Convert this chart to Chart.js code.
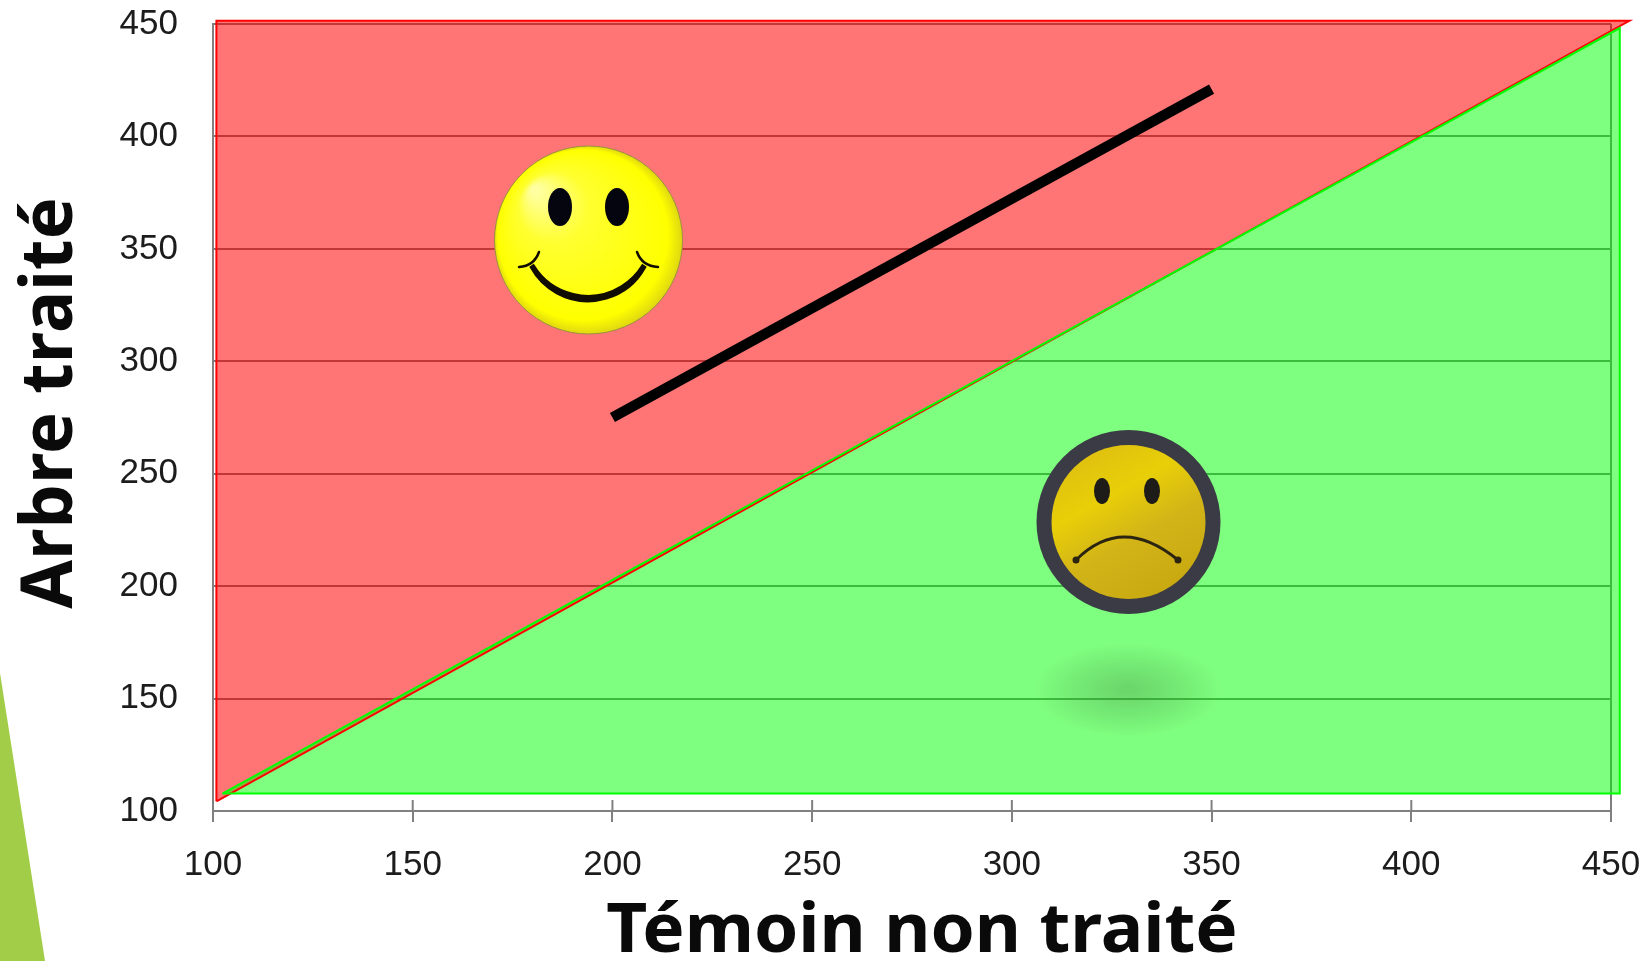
<!DOCTYPE html>
<html><head><meta charset="utf-8">
<style>html,body{margin:0;padding:0;background:#fff;overflow:hidden}canvas{display:block}</style>
<script src="https://cdn.jsdelivr.net/npm/chart.js@4"></script>
</head><body><canvas id="c" width="1646" height="961"></canvas>
<script>
const tickValues=[100,150,200,250,300,350,400,450];
const xTitle="Témoin non traité";
const yTitle="Arbre traité";
const redX=[100.85,454.6,100.85,100.85];
const redY=[104.3,451.4,451.4,104.3];
const greenX=[102.35,452.2,452.2,102.35];
const greenY=[107.75,448.2,107.75,107.75];
const trendX=[200,350];
const trendY=[275,421];
const pts=(xs,ys)=>xs.map((x,i)=>({x,y:ys[i]}));

function zone(ch,xs,ys,fill){const c=ch.ctx,sx=ch.scales.x,sy=ch.scales.y;c.fillStyle=fill;c.beginPath();
 xs.forEach((x,i)=>{const px=sx.getPixelForValue(x),py=sy.getPixelForValue(ys[i]);i?c.lineTo(px,py):c.moveTo(px,py);});c.closePath();c.fill();}

const decor={id:'decor',
 beforeDraw(ch){const c=ch.ctx;c.save();c.fillStyle='#A2CD48';c.beginPath();c.moveTo(0,673);c.lineTo(45,961);c.lineTo(0,961);c.closePath();c.fill();c.restore();},
 beforeDatasetsDraw(ch){const c=ch.ctx,s=ch.scales.x;c.save();c.strokeStyle='#808080';c.lineWidth=2;
  tickValues.forEach(v=>{const p=s.getPixelForValue(v);c.beginPath();c.moveTo(p,s.top-11);c.lineTo(p,s.top);c.stroke();});
  zone(ch,redX,redY,'rgba(255,0,0,.54)');
  zone(ch,greenX,greenY,'rgba(0,255,0,.5)');
  c.restore();},
 afterDatasetsDraw(ch){const c=ch.ctx;c.save();
  // smiling face
  let g=c.createRadialGradient(535,190,4,588,240,94);
  g.addColorStop(0,'#ffffa0');g.addColorStop(.35,'#ffff30');g.addColorStop(.9,'#ffff00');g.addColorStop(1,'#e0d810');
  c.fillStyle=g;c.strokeStyle='#9a8f40';c.lineWidth=1;c.beginPath();c.ellipse(588.5,240,94,94,0,0,7);c.fill();c.stroke();
  c.fillStyle='#050510';[560,617].forEach(x=>{c.beginPath();c.ellipse(x,207,12,19,0,0,7);c.fill();});
  c.fillStyle=c.strokeStyle='#100c00';c.lineCap='round';c.lineWidth=2.5;
  c.beginPath();c.arc(588,236,65,.5,Math.PI-.5);c.arc(588,232,64,Math.PI-.55,.55,true);c.closePath();c.fill();c.stroke();
  c.lineWidth=2.5;c.beginPath();c.moveTo(519,267);c.quadraticCurveTo(534,266,539,252);c.stroke();
  c.beginPath();c.moveTo(658,267);c.quadraticCurveTo(642,266,637,252);c.stroke();
  // shadow
  c.save();c.translate(1128,690);c.scale(1,.5);g=c.createRadialGradient(0,0,5,0,0,95);
  g.addColorStop(0,'rgba(60,120,60,.3)');g.addColorStop(.5,'rgba(60,120,60,.16)');g.addColorStop(1,'rgba(60,120,60,0)');
  c.fillStyle=g;c.beginPath();c.arc(0,0,95,0,7);c.fill();c.restore();
  // sad face
  c.fillStyle='#3b3b45';c.beginPath();c.arc(1128.5,522,92,0,7);c.fill();
  g=c.createLinearGradient(1090,450,1170,595);
  g.addColorStop(0,'#dfc010');g.addColorStop(.3,'#e8cf08');g.addColorStop(.6,'#d2b418');g.addColorStop(1,'#c8a810');
  c.fillStyle=g;c.beginPath();c.arc(1128.5,522,77,0,7);c.fill();
  c.fillStyle='#1d1c18';[1102,1152].forEach(x=>{c.beginPath();c.ellipse(x,491,8,13,0,0,7);c.fill();});
  c.strokeStyle='#2a2410';c.lineWidth=3;c.beginPath();c.moveTo(1076,560);c.quadraticCurveTo(1122,514,1178,560);c.stroke();
  c.fillStyle='#2a2410';[[1076,560],[1178,560]].forEach(p=>{c.beginPath();c.arc(p[0],p[1],3.5,0,7);c.fill();});
  c.restore();}
};

// Places and stretches an axis title around its centre (the reference's titles are stretched).
function fitTitle(scale,cx,cy,sx,sy,dx,dy){const o=scale.drawTitle;if(o.__s)return;
 const f=function(){const c=this.ctx;c.save();c.translate(cx+dx,cy+dy);c.scale(sx,sy);c.translate(-cx,-cy);o.call(this);c.restore();};f.__s=true;scale.drawTitle=f;}

const gridFor=v=>v===100||v===450?'#7a7a7a':'rgba(0,0,0,0)';
new Chart(document.getElementById('c'),{
 type:'scatter',
 plugins:[decor],
 data:{datasets:[
  {label:'Tendance',data:pts(trendX,trendY),showLine:true,borderColor:'#000',borderWidth:10.5,pointRadius:0,clip:false,borderCapStyle:'butt'},
  {label:'Zone verte',data:pts(greenX,greenY),showLine:true,borderColor:'#00FF00',borderWidth:2,pointRadius:0,clip:false},
  {label:'Zone rouge',data:pts(redX,redY),showLine:true,borderColor:'#FF0000',borderWidth:2,pointRadius:0,clip:false}
 ]},
 options:{responsive:false,animation:false,
  layout:{padding:{top:24,right:35,left:0,bottom:0}},
  plugins:{legend:{display:false},tooltip:{enabled:false}},
  scales:{
   x:{type:'linear',min:100,max:450,
    afterFit(s){s.height=150;s.paddingLeft=0;s.paddingRight=0;},
    afterBuildTicks(s){s.ticks=tickValues.map(value=>({value}));},
    afterUpdate(s){fitTitle(s,912,916,1.045,1,10,12);},
    grid:{color:c=>gridFor(c.tick&&c.tick.value),tickColor:'#808080',tickLength:11,lineWidth:2},
    border:{color:'#808080',width:2},
    ticks:{color:'#1c1c1c',padding:22,maxRotation:0,font:{family:'Liberation Sans',size:35}},
    title:{display:true,text:xTitle,color:'#0a0a0a',padding:{top:0,bottom:0},font:{family:'Noto Sans',weight:'bold',size:68}}
   },
   y:{type:'linear',min:100,max:450,
    afterFit(s){s.width=213;s.paddingTop=0;s.paddingBottom=0;},
    afterBuildTicks(s){s.ticks=tickValues.map(value=>({value}));},
    afterUpdate(s){fitTitle(s,41.5,417,1.06,1.035,4.2,-14.5);},
    grid:{color:'#787878',lineWidth:2,drawTicks:false},
    border:{color:'#808080',width:2},
    ticks:{color:'#1c1c1c',padding:35,font:{family:'Liberation Sans',size:35}},
    title:{display:true,text:yTitle,color:'#0a0a0a',padding:{top:6,bottom:0},font:{family:'Noto Sans',weight:'bold',size:68}}
   }
  }
 }
});
</script></body></html>
